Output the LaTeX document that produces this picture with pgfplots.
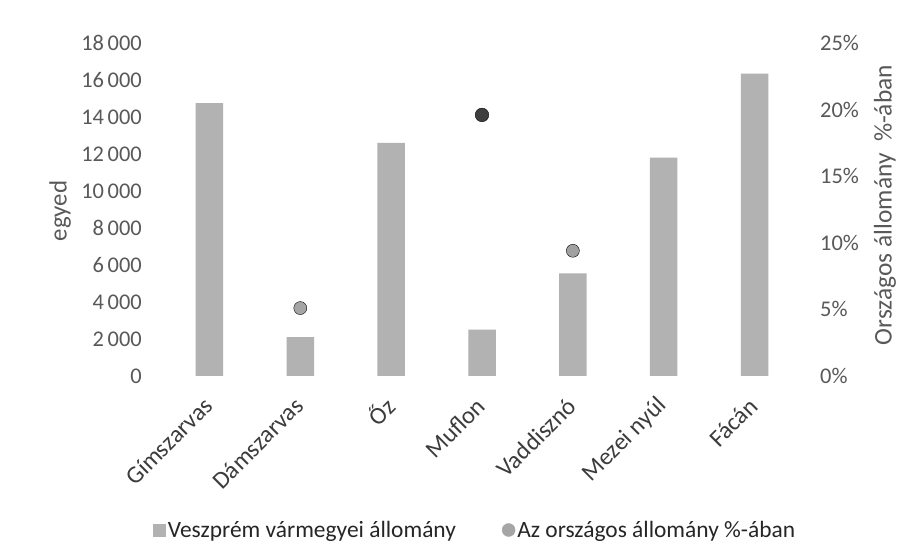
\documentclass[border=0pt]{standalone}
\usepackage{pgfplots}
\pgfplotsset{compat=1.18}
\usepackage{fontspec}
\setmainfont{Carlito}
\definecolor{barcol}{RGB}{178,178,178}
\definecolor{dotlight}{RGB}{165,165,165}
\definecolor{dotdark}{RGB}{62,62,62}
\definecolor{dotmid}{RGB}{160,160,160}
\definecolor{tickcol}{RGB}{89,89,89}
\definecolor{labcol}{RGB}{60,60,60}
\definecolor{legcol}{RGB}{38,38,38}
\begin{document}
\begin{tikzpicture}
\useasboundingbox (0,0) rectangle (919bp,558bp);
\fill[white] (0,0) rectangle (919bp,558bp);
\begin{axis}[
  at={(164bp,182bp)}, anchor=south west,
  width=636bp, height=333bp, scale only axis,
  xmin=-0.5, xmax=6.5, ymin=0, ymax=18000,
  axis y line*=left, axis x line*=bottom,
  axis line style={draw=none},
  major tick length=0pt,
  xtick={0,...,6},
  xticklabels={Gímszarvas, Dámszarvas, Őz, Muflon, Vaddisznó, Mezei nyúl, Fácán},
  xticklabel style={xshift=-1bp, yshift=-26bp, rotate=45, anchor=east, inner sep=0pt, font=\fontsize{24.5}{28}\selectfont, text=labcol},
  ytick={0,2000,...,18000},
  yticklabel style={anchor=east, inner sep=0pt, xshift=-22bp, font=\fontsize{22.5}{26}\selectfont, text=tickcol},
  /pgf/number format/.cd, 1000 sep={\,}, assume math mode=true, /pgfplots/.cd,
  scaled y ticks=false,
  ybar, bar width=27.5bp,
  legend columns=2,
  legend style={at={(0.489,-0.4625)}, anchor=center, draw=none, fill=none,
    font=\fontsize{23.5}{27}\selectfont, text=legcol,
    /tikz/every even column/.append style={column sep=44bp}},
]
\addplot[fill=barcol, draw=none, area legend,
  legend image code/.code={\fill[barcol] (0bp,-6.5bp) rectangle (13bp,6.5bp);}]
  coordinates {(0,14750) (1,2100) (2,12600) (3,2500) (4,5550) (5,11800) (6,16350)};
\addlegendentry{Veszprém vármegyei állomány}
\addlegendimage{legend image code/.code={\fill[dotlight] (6.5bp,0bp) circle (6.5bp);}}
\addlegendentry{Az országos állomány \%-ában}
\end{axis}
\begin{axis}[
  at={(164bp,182bp)}, anchor=south west,
  width=636bp, height=333bp, scale only axis,
  xmin=-0.5, xmax=6.5, ymin=0, ymax=25,
  axis y line*=right, axis x line=none,
  axis line style={draw=none},
  major tick length=0pt,
  ytick={0,5,...,25},
  yticklabel={\pgfmathprintnumber{\tick}\%},
  yticklabel style={anchor=west, inner sep=0pt, xshift=20bp, font=\fontsize{22.5}{26}\selectfont, text=tickcol},
  /pgf/number format/assume math mode=true,
]
\addplot[only marks, mark=*, mark size=6.5bp, draw=none, fill=dotlight] coordinates {(1,5.1)};
\addplot[only marks, mark=*, mark size=6.8bp, draw=none, fill=dotdark] coordinates {(3,19.6)};
\addplot[only marks, mark=*, mark size=6.5bp, draw=none, fill=dotmid] coordinates {(4,9.4)};
\end{axis}
\node[rotate=90, font=\fontsize{25}{28}\selectfont, text=tickcol] at (60bp,347bp) {egyed};
\node[rotate=90, font=\fontsize{25.5}{28}\selectfont, text=tickcol] at (885bp,353bp) {Országos állomány\ \ \%-ában};
\end{tikzpicture}
\end{document}
